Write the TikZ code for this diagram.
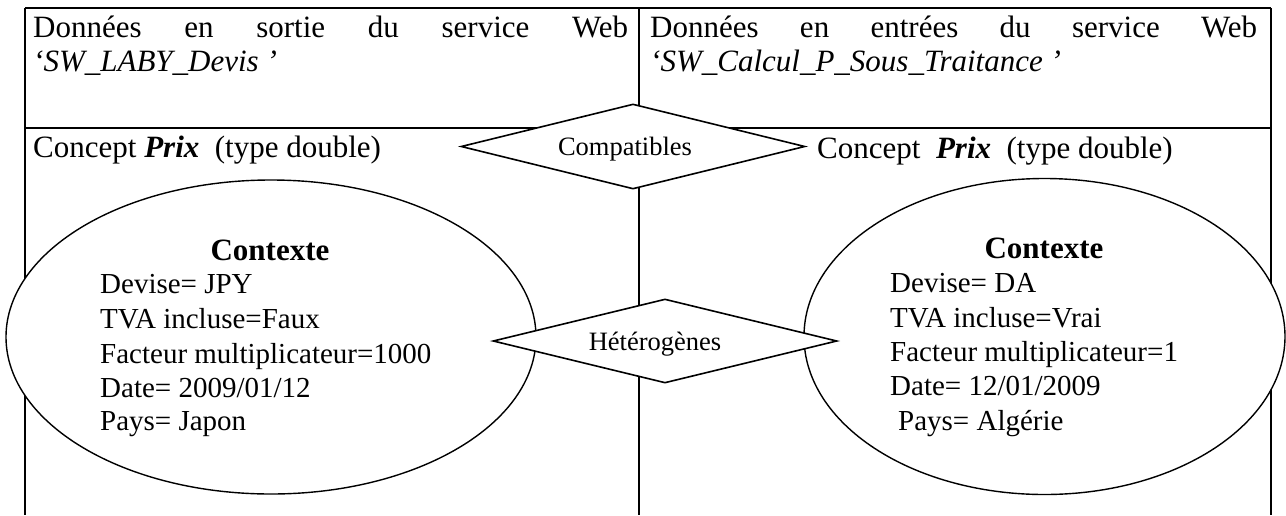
\documentclass[tikz,border=0pt]{standalone}
\usepackage{fontspec}
\setmainfont{Liberation Serif}
\usetikzlibrary{shapes.geometric}
\begin{document}
\begin{tikzpicture}[x=1pt,y=-1pt,
  frame/.style={line width=1.8pt},
  ell/.style={ellipse, draw, line width=1.4pt, fill=white, inner sep=0pt},
  diam/.style={diamond, draw, line width=1.6pt, fill=white, inner sep=0pt, shape aspect=4},
  txt/.style={inner sep=0pt, anchor=base west, font=\fontsize{31}{36}\selectfont},
  ctx/.style={inner sep=0pt, anchor=base west, font=\fontsize{29}{34}\selectfont},
  ctxtitle/.style={inner sep=0pt, anchor=base, font=\fontsize{31}{36}\selectfont\bfseries},
  lbl/.style={inner sep=0pt, anchor=base, font=\fontsize{26.5}{30}\selectfont},
]
\useasboundingbox (0,0) rectangle (1286,515);
% table frame
\coordinate (TL) at (25,8);
\coordinate (TR) at (1271,8);
\coordinate (TM) at (639,8);
\coordinate (ML) at (25,128);
\coordinate (MR) at (1271,128);
\coordinate (BL) at (25,515);
\coordinate (BR) at (1271,515);
\coordinate (BM) at (639,515);
\draw[frame] (TL) -- (TR);
\draw[frame] (ML) -- (MR);
\draw[frame] (TL) -- (BL);
\draw[frame] (TR) -- (BR);
\draw[frame] (TM) -- (BM);
% header texts
\node[txt] (h1) at (33,37) {\makebox[595pt][s]{Données en sortie du service Web}};
\node[txt] (h2) at (33,71) {\itshape ‘SW\_LABY\_Devis ’};
\node[txt] (h3) at (650,37) {\makebox[607pt][s]{Données en entrées du service Web}};
\node[txt] (h4) at (650,71) {\itshape ‘SW\_Calcul\_P\_Sous\_Traitance ’};
% ellipses
\node[ell, minimum width=530pt, minimum height=314pt] (e1) at (271,337) {};
\node[ell, minimum width=481pt, minimum height=316pt] (e2) at (1044.5,336.5) {};
% diamonds
\node[diam, minimum width=344pt, minimum height=85pt] (d1) at (633,146.5) {};
\node[diam, minimum width=344pt, minimum height=84pt] (d2) at (665,341) {};
\node[lbl] (l1) at (625,155) {Compatibles};
\node[lbl] (l2) at (655,350) {Hétérogènes};
% concept lines
\node[txt] (c1) at (33,157) {Concept \textbf{\textit{Prix}}\ \ (type double)};
\node[txt] (c2) at (817,158) {Concept\ \ \textbf{\textit{Prix}}\ \ (type double)};
% left context
\node[ctxtitle] (t1) at (270,260) {Contexte};
\node[ctx] (a1) at (100,293) {Devise= JPY};
\node[ctx] (a2) at (100,328) {TVA incluse=Faux};
\node[ctx] (a3) at (100,363) {Facteur multiplicateur=1000};
\node[ctx] (a4) at (100,397) {Date= 2009/01/12};
\node[ctx] (a5) at (100,430) {Pays= Japon};
% right context
\node[ctxtitle] (t2) at (1044,258) {Contexte};
\node[ctx] (b1) at (890,292) {Devise= DA};
\node[ctx] (b2) at (890,327) {TVA incluse=Vrai};
\node[ctx] (b3) at (890,361) {Facteur multiplicateur=1};
\node[ctx] (b4) at (890,395) {Date= 12/01/2009};
\node[ctx] (b5) at (898,430) {Pays= Algérie};
\end{tikzpicture}
\end{document}
